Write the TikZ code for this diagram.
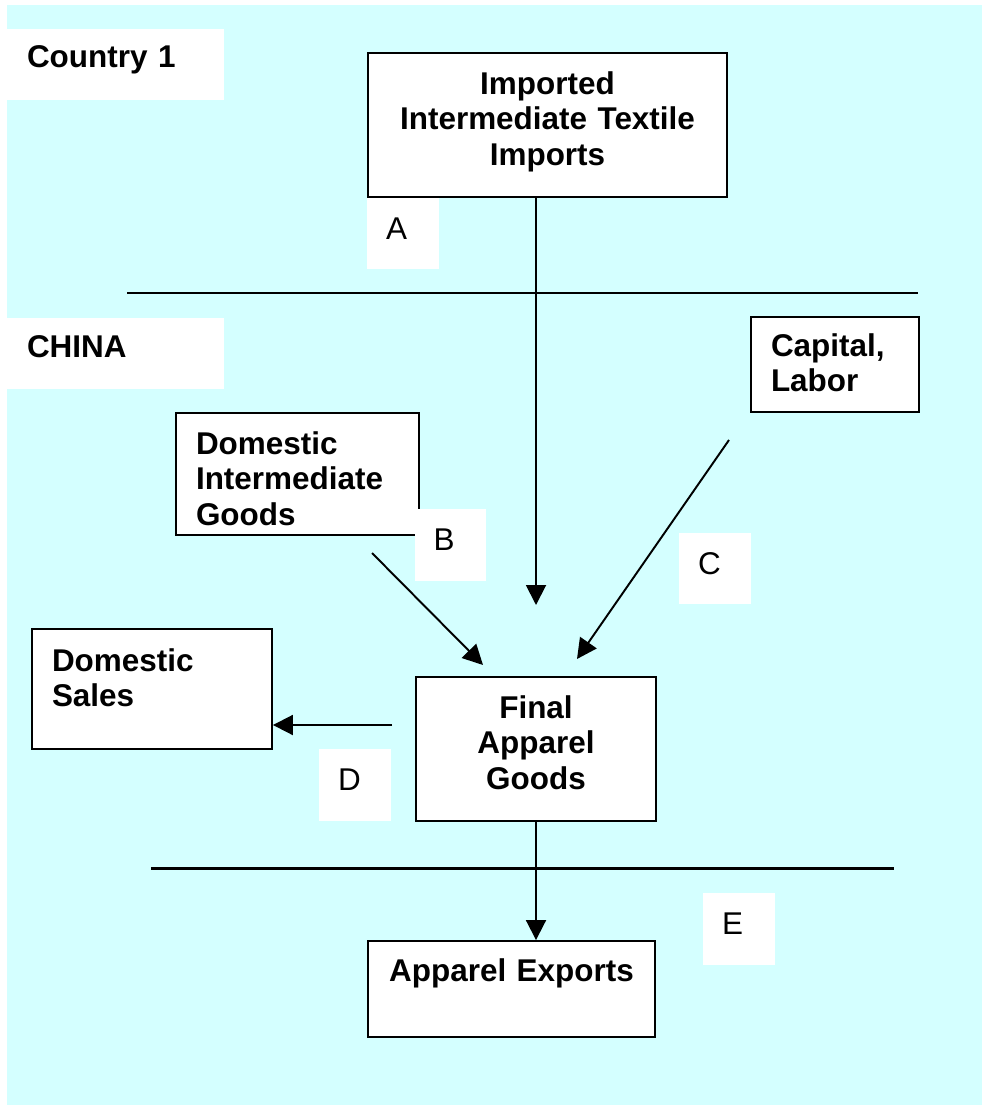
\documentclass[tikz,border=0pt]{standalone}
\usepackage{fontspec}
\setmainfont{Liberation Sans}
\usetikzlibrary{arrows.meta}
\definecolor{paleblue}{RGB}{212,255,255}

\begin{document}
\begin{tikzpicture}[x=0.02cm, y=-0.02cm,
        every node/.style={fill=white, inner ysep=0pt, text height=0.5cm,
            font=\fontsize{17.9}{20.4}\selectfont\bfseries},
        box/.style={draw, line width=1.1pt},
        tag/.style={inner xsep=0.4cm, minimum width=4.34cm, minimum height=1.42cm,
            text width=3.54cm, align=left, text depth=0.36cm},
        letter/.style={font=\fontsize{17.9}{20.4}\selectfont, inner xsep=0pt,
            minimum width=1.44cm, minimum height=1.43cm, text width=0.68cm,
            align=left, text depth=0.28cm},
        flow/.style={line width=1.1pt, -{Triangle[length=0.4cm, width=0.4cm]}}]
            \useasboundingbox (0,0) rectangle (982,1105);
            \fill[paleblue] (7,5) rectangle (982,1105);

            \node[tag] (country) at (115.5,64.5) {Country 1};
            \node[tag] (china) at (115.5,353.5) {CHINA};

            \draw[line width=1.7pt] (127,293) -- (918,293);
            \draw[line width=1.7pt] (151,868) -- (894,868);

            \node[box, minimum width=7.18cm, minimum height=2.88cm, text width=6.7cm,
                align=center, text depth=1.74cm] (imported) at (547.5,125)
                {Imported\\Intermediate Textile\\Imports};
            \node[box, inner xsep=0.4cm, minimum width=3.36cm, minimum height=1.9cm,
                text width=2.56cm, align=left, text depth=0.84cm] (capital) at (835,364.5)
                {Capital,\\Labor};
            \node[box, inner xsep=0.4cm, minimum width=4.86cm, minimum height=2.44cm,
                text width=4.06cm, align=left, text depth=1.3cm] (domestic) at (297.5,474)
                {Domestic\\Intermediate\\Goods};
            \node[box, minimum width=4.8cm, minimum height=2.88cm, text width=4.2cm,
                align=center, text depth=1.74cm] (final) at (536,749)
                {Final\\Apparel\\Goods};
            \node[box, inner xsep=0.4cm, minimum width=4.8cm, minimum height=2.4cm,
                text width=4cm, align=left, text depth=1.22cm] (sales) at (152,689)
                {Domestic\\Sales};
            \node[box, minimum width=5.74cm, minimum height=1.92cm, text width=5.2cm,
                align=center, text depth=0.82cm] (exports) at (511.5,989)
                {Apparel Exports};

            \coordinate (aend) at (536,605);
            \coordinate (bstart) at (372,553);
            \coordinate (bend) at (483,665);
            \coordinate (cstart) at (729,440);
            \coordinate (cend) at (577,659);
            \coordinate (dstart) at (392,725);

            \draw[flow] (imported.south -| final) -- (aend);
            \draw[flow] (bstart) -- (bend);
            \draw[flow] (cstart) -- (cend);
            \draw[flow] (dstart) -- (dstart -| sales.east);
            \draw[flow] (final.south) -- (final.south |- exports.north);

            \foreach \l/\x/\y in {A/403/233.5, B/450.5/545, C/715/568.5, D/355/785, E/739/929}
                \node[letter] (\l) at (\x,\y) {\l};
\end{tikzpicture}
\end{document}
